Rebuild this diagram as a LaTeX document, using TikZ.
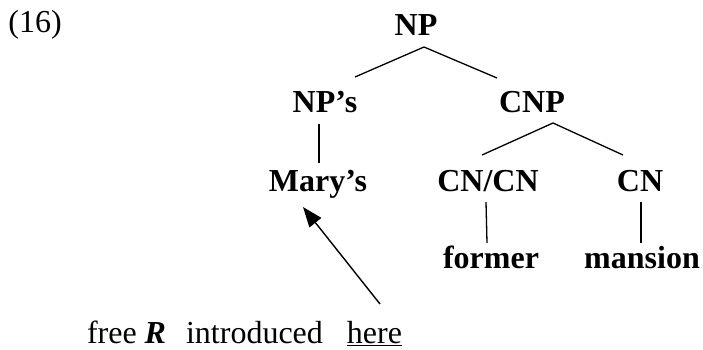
\documentclass[tikz,border=0pt]{standalone}
\usepackage{fontspec}
\setmainfont{Liberation Serif}
\usetikzlibrary{arrows.meta}
\begin{document}
\begin{tikzpicture}[x=1pt,y=-1pt,
  every node/.style={inner sep=0pt,outer sep=0pt,anchor=base,font=\fontsize{32}{37}\selectfont},
  cat/.style={font=\fontsize{32}{37}\selectfont\bfseries},
  branch/.style={line width=1.3pt},
  pointer/.style={line width=1.4pt,-{Triangle[length=20pt,width=15pt]}}]
\useasboundingbox (0,0) rectangle (703,349);
\node (num) at (35,32) {(16)};
\node[cat] (np) at (416,35) {NP};
\node[cat] (nps) at (325,112) {NP’s};
\node[cat] (cnp) at (532,112) {CNP};
\node[cat] (mary) at (318,191) {Mary’s};
\node[cat] (cncn) at (488,191) {CN/CN};
\node[cat] (cn) at (640,191) {CN};
\node[cat] (former) at (491,268) {former};
\node[cat] (mansion) at (642,268) {mansion};
\node[anchor=base west] (free) at (87,343) {free \textbf{\textit{R}}\hspace{12pt} introduced\hspace{16pt} \underline{here}};
\draw[branch] ([shift={(8,12)}]np.base) -- ([shift={(30,-35)}]nps.base);
\draw[branch] ([shift={(8,12)}]np.base) -- ([shift={(-35,-34)}]cnp.base);
\draw[branch] ([shift={(-6,12)}]nps.base) -- ([shift={(1,-28)}]mary.base);
\draw[branch] ([shift={(21,11)}]cnp.base) -- ([shift={(-6,-36)}]cncn.base);
\draw[branch] ([shift={(21,11)}]cnp.base) -- ([shift={(-17,-36)}]cn.base);
\draw[branch] ([shift={(-2,11)}]cncn.base) -- ([shift={(-4,-25)}]former.base);
\draw[branch] ([shift={(1,11)}]cn.base) -- ([shift={(-1,-25)}]mansion.base);
\draw[pointer] ([shift={(293,-39)}]free.base west) -- ([shift={(-15,16)}]mary.base);
\end{tikzpicture}
\end{document}
